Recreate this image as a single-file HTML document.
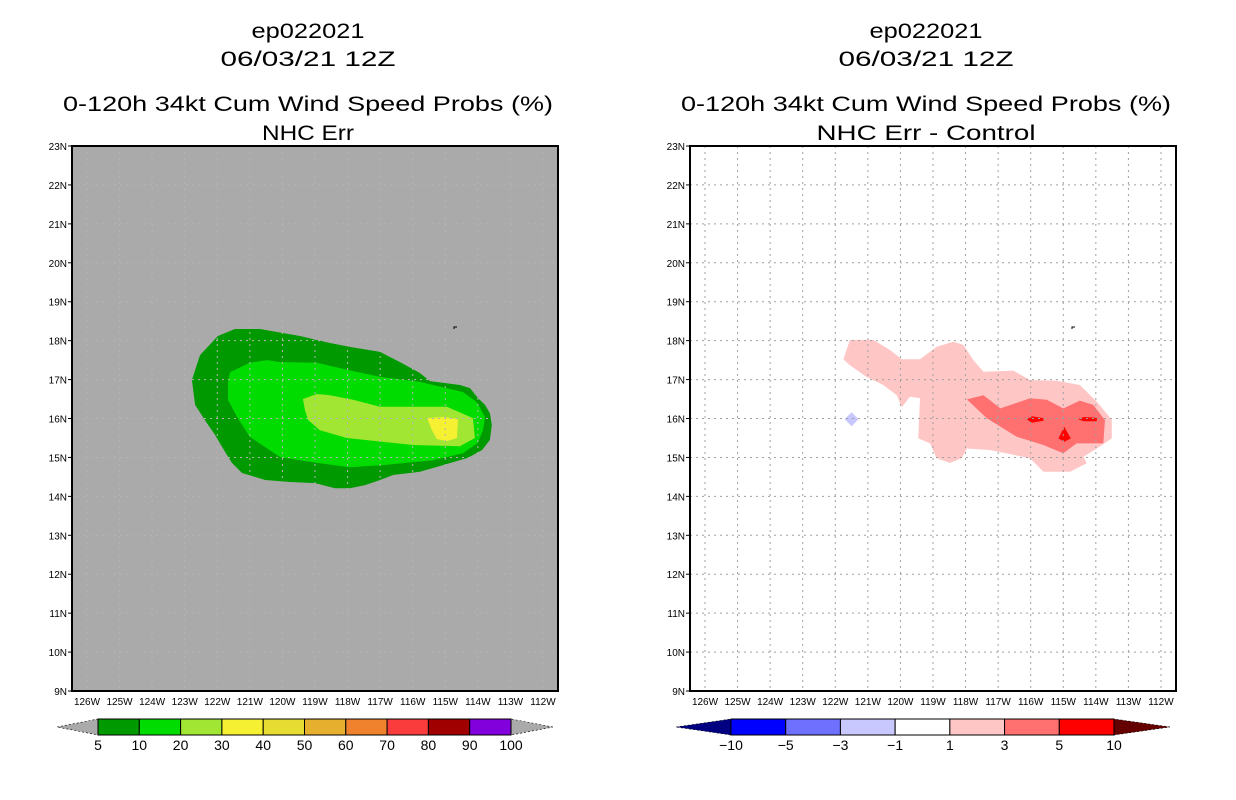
<!DOCTYPE html>
<html><head><meta charset="utf-8"><style>
html,body{margin:0;padding:0;background:#fff;width:1236px;height:800px;overflow:hidden}
svg{display:block;font-family:"Liberation Sans",sans-serif}
</style></head><body>
<svg id="chart" width="1236" height="800" viewBox="0 0 1236 800"></svg>
<script>
// ---- data ----
const lonTicks = [126,125,124,123,122,121,120,119,118,117,116,115,114,113,112];
const latTicks = [23,22,21,20,19,18,17,16,15,14,13,12,11,10,9];
const probLevels = ["5","10","20","30","40","50","60","70","80","90","100"];
const probColors = ["#009a00","#00dc00","#a0e632","#f5f032","#e6dc32","#e6af2d","#f0822d","#fa3c3c","#a00000","#8200dc"];
const diffLevels = ["-10","-5","-3","-1","1","3","5","10"];
const diffColors = ["#0000ff","#7070ff","#c8c8ff","#ffffff","#ffc6c6","#ff7070","#ff0000"];
// contours as [lonW, latN]
const prob5 = [[121.98,18.12],[121.46,18.30],[120.69,18.30],[119.46,18.12],[118.54,17.94],[117.93,17.84],[117.00,17.71],[116.39,17.45],[115.78,17.17],[115.47,16.96],[114.55,16.86],[114.24,16.78],[114.00,16.53],[113.78,16.35],[113.63,16.14],[113.57,15.83],[113.63,15.45],[113.87,15.19],[114.30,14.99],[115.16,14.78],[115.78,14.63],[116.60,14.55],[117.00,14.42],[117.46,14.29],[117.93,14.21],[118.39,14.21],[119.00,14.34],[119.77,14.37],[120.53,14.42],[121.24,14.60],[121.55,14.86],[121.76,15.14],[122.07,15.58],[122.38,15.96],[122.68,16.35],[122.78,16.99],[122.53,17.63]];
const prob10 = [[121.61,17.19],[121.00,17.43],[120.47,17.50],[120.07,17.45],[118.94,17.43],[118.02,17.25],[117.00,17.07],[115.78,16.94],[114.46,16.68],[114.03,16.42],[113.78,16.04],[113.84,15.71],[114.00,15.37],[114.46,15.11],[115.38,14.93],[116.79,14.81],[117.93,14.75],[118.94,14.86],[120.07,15.01],[121.00,15.53],[121.39,16.04],[121.67,16.48],[121.67,16.94]];
const prob20 = [[119.37,16.50],[118.94,16.63],[118.54,16.60],[117.83,16.48],[117.00,16.30],[114.95,16.30],[114.15,16.01],[114.09,15.50],[114.55,15.29],[115.99,15.32],[118.02,15.50],[118.85,15.70],[119.21,15.96],[119.31,16.22]];
const prob30 = [[115.56,16.01],[115.07,16.04],[114.61,15.99],[114.64,15.50],[114.95,15.42],[115.25,15.47],[115.41,15.70]];
const diff1 = [[121.75,17.52],[121.55,18.02],[120.83,18.02],[120.32,17.76],[119.96,17.52],[119.40,17.52],[118.89,17.84],[118.38,17.97],[118.07,17.89],[117.76,17.50],[117.45,17.20],[116.53,17.23],[116.02,16.99],[115.20,16.97],[114.49,16.86],[113.97,16.43],[113.67,16.13],[113.51,15.96],[113.51,15.49],[113.97,15.23],[114.38,15.02],[114.28,14.85],[114.79,14.63],[115.61,14.63],[116.02,14.98],[117.25,15.19],[117.96,15.23],[118.12,14.98],[118.48,14.86],[118.89,14.98],[119.09,15.36],[119.45,15.49],[119.40,16.52],[119.71,16.56],[119.96,16.29],[120.11,16.60],[120.53,16.86],[121.04,17.07],[121.55,17.37]];
const diff3 = [[117.96,16.49],[117.45,16.60],[116.93,16.26],[116.02,16.52],[115.51,16.48],[115.00,16.26],[114.49,16.46],[114.08,16.35],[113.72,15.96],[113.77,15.36],[114.59,15.36],[115.00,15.11],[115.61,15.32],[116.43,15.53],[117.35,16.01]];
const diff5a = [[116.12,15.98],[115.97,16.06],[115.61,16.01],[115.61,15.94],[115.97,15.89]];
const diff5b = [[114.54,15.98],[114.38,16.04],[113.97,16.02],[113.97,15.93],[114.38,15.93]];
const diff5c = [[114.97,15.79],[115.15,15.49],[114.97,15.40],[114.77,15.49]];
const diffNeg1 = [[121.71,15.98],[121.50,16.16],[121.29,15.98],[121.50,15.80]];

const NS='http://www.w3.org/2000/svg';
const svg=document.getElementById('chart');
function el(tag,attrs,parent){const e=document.createElementNS(NS,tag);for(const k in attrs)e.setAttribute(k,attrs[k]);(parent||svg).appendChild(e);return e;}
const PX0=87, PXS=32.57, PY0=146, PYS=38.93;
function xs(off,lon){return off+PX0+(126-lon)*PXS;}
function ys(lat){return PY0+(23-lat)*PYS;}
function pts(off,arr){return arr.map(p=>xs(off,p[0]).toFixed(1)+','+ys(p[1]).toFixed(1)).join(' ');}

function panel(off,bg,name,titles){
  const g=el('g',{});
  
  
  const ty=[38,66,111,140];
  const tw=[113,175,490,titles[3].length>8?219:92];
  titles.forEach((t,i)=>{
    const tx=el('text',{x:off+308,y:ty[i],'text-anchor':'middle','font-size':21,textLength:tw[i],lengthAdjust:'spacingAndGlyphs',fill:'#000'},g);
    tx.textContent=t;
    
    
  });
  const pr=el('rect',{x:off+72,y:146,width:486,height:545,fill:bg},g);
  
  
  return g;
}
function gridAndAxes(off,g,gc){
  lonTicks.forEach(l=>{const x=xs(off,l);
    const ln=el('line',{x1:x,y1:146,x2:x,y2:691,stroke:gc,'stroke-width':1,'stroke-dasharray':'2,4'},g);
    
    
    const t=el('text',{x:x,y:705,'text-anchor':'middle','font-size':10,fill:'#000'},g);t.textContent=l+'W';
    
    
  });
  latTicks.forEach(l=>{const y=ys(l);
    if(l!==23&&l!==9){const ln=el('line',{x1:off+72,y1:y,x2:off+558,y2:y,stroke:gc,'stroke-width':1,'stroke-dasharray':'2,4'},g);
    
    }
    el('line',{x1:off+68,y1:y,x2:off+72,y2:y,stroke:'#000'},g);
    const t=el('text',{x:off+67,y:y+4,'text-anchor':'end','font-size':10,fill:'#000'},g);t.textContent=l+'N';
    
    
  });
  el('path',{d:`M${off+454} 329 L${off+454} 327 L${off+457} 327`,stroke:'#000',fill:'none','stroke-width':1},g);
  const fr=el('rect',{x:off+72,y:146,width:486,height:545,fill:'none',stroke:'#000','stroke-width':2},g);
  
  
}
function poly(off,arr,color,g,name){const p=el('polygon',{points:pts(off,arr),fill:color},g);
  
  }

// left panel
const gl=panel(0,'#aaaaaa','left-panel',['ep022021','06/03/21 12Z','0-120h 34kt Cum Wind Speed Probs (%)','NHC Err']);
poly(0,prob5,probColors[0],gl,'contour-5-10');
poly(0,prob10,probColors[1],gl,'contour-10-20');
poly(0,prob20,probColors[2],gl,'contour-20-30');
poly(0,prob30,probColors[3],gl,'contour-30-40');
gridAndAxes(0,gl,'#b4b4b4');

// right panel
const R=618;
const gr=panel(R,'#ffffff','right-panel',['ep022021','06/03/21 12Z','0-120h 34kt Cum Wind Speed Probs (%)','NHC Err - Control']);
poly(R,diff1,diffColors[4],gr,'diff-contour-1-3');
poly(R,diff3,diffColors[5],gr,'diff-contour-3-5');
poly(R,diff5a,diffColors[6],gr,'diff-contour-5-a');
poly(R,diff5b,diffColors[6],gr,'diff-contour-5-b');
poly(R,diff5c,diffColors[6],gr,'diff-contour-5-c');
poly(R,diffNeg1,diffColors[2],gr,'diff-contour-neg');
gridAndAxes(R,gr,'#a0a0a0');

// colorbars
function colorbar(x0,x1,bx0,bx1,colors,levels,lowTri,highTri,name){
  const g=el('g',{});
  
  
  const y0=719,y1=735,ym=727,n=colors.length,w=(bx1-bx0)/n;
  el('polygon',{points:`${x0},${ym} ${bx0},${y0} ${bx0},${y1}`,fill:lowTri,stroke:'#000','stroke-width':0.6,'stroke-dasharray':'2,2'},g);
  el('polygon',{points:`${x1},${ym} ${bx1},${y0} ${bx1},${y1}`,fill:highTri,stroke:'#000','stroke-width':0.6,'stroke-dasharray':'2,2'},g);
  colors.forEach((c,i)=>{const r=el('rect',{x:bx0+i*w,y:y0,width:w,height:y1-y0,fill:c,stroke:'#000','stroke-width':1},g);
    
    });
  levels.forEach((l,i)=>{const t=el('text',{x:bx0+i*w,y:750,'text-anchor':'middle','font-size':14,fill:'#000'},g);t.textContent=l.replace('-','\u2212');
    
    });
}
colorbar(57,553,98,511,probColors,probLevels,'#aaaaaa','#aaaaaa','prob-colorbar');
colorbar(676,1170,731,1114,diffColors,diffLevels,'#000080','#640000','diff-colorbar');
</script>
</body></html>
